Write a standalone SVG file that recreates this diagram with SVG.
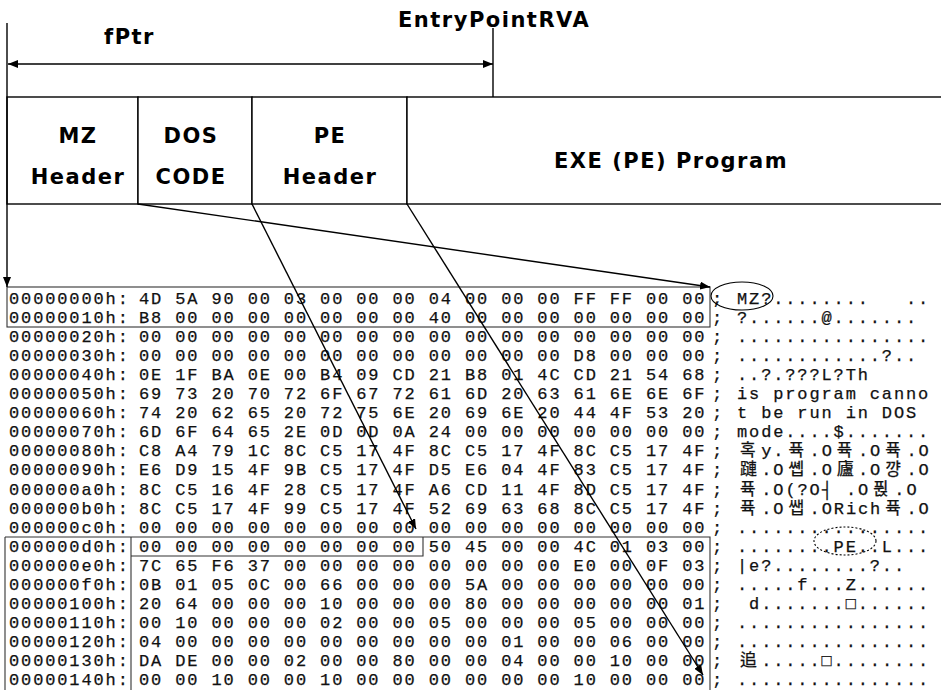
<svg xmlns="http://www.w3.org/2000/svg" width="941" height="690" viewBox="0 0 941 690">
  <defs>
    <marker id="tip" viewBox="0 0 10 8" refX="10" refY="4" markerUnits="userSpaceOnUse" markerWidth="10" markerHeight="8" orient="auto-start-reverse">
      <path d="M0,0 L10,4 L0,8 z" fill="#000"/>
    </marker>
    <style>
      .cell { fill: #fff; stroke: #000; stroke-width: 1.4; }
      .lbl { font-family: "DejaVu Sans", Verdana, sans-serif; font-weight: bold; font-size: 21px; letter-spacing: 1.5px; fill: #000; }
      .mid { text-anchor: middle; }
      .wire { fill: none; stroke: #000; stroke-width: 1.4; }
      .dump { font-family: "Liberation Mono", "DejaVu Sans Mono", "Noto Sans CJK KR", monospace; font-size: 17px; letter-spacing: 1.87px; fill: #111; stroke: #111; stroke-width: 0.25; }
      .frame { fill: none; stroke: #333; stroke-width: 1.1; }
      .ring { fill: none; stroke: #000; stroke-width: 1.1; }
      .ring.dotted { stroke-dasharray: 2 2; }
    </style>
  </defs>

  <rect width="941" height="690" fill="#fff"/>

  <!-- offset labels above the layout -->
  <g id="label-fptr">
    <text class="lbl" x="104" y="44">fPtr</text>
  </g>
  <g id="label-entrypoint">
    <text class="lbl" x="398" y="27">EntryPointRVA</text>
  </g>

  <!-- file layout -->
  <g id="mz-header">
    <rect class="cell" x="7" y="97" width="131" height="107"/>
    <text class="lbl mid" x="78" y="143">MZ</text>
    <text class="lbl mid" x="78" y="184">Header</text>
  </g>
  <g id="dos-code">
    <rect class="cell" x="138" y="97" width="114" height="107"/>
    <text class="lbl mid" x="191" y="143">DOS</text>
    <text class="lbl mid" x="191" y="184">CODE</text>
  </g>
  <g id="pe-header">
    <rect class="cell" x="252" y="97" width="155" height="107"/>
    <text class="lbl mid" x="330" y="143">PE</text>
    <text class="lbl mid" x="330" y="184">Header</text>
  </g>
  <g id="exe-program">
    <rect class="cell" x="407" y="97" width="540" height="107"/>
    <text class="lbl mid" x="671" y="168">EXE (PE) Program</text>
  </g>

  <!-- hex dump: address, 16 bytes, separator, character view -->
  <g id="hexdump" class="dump">
    <text y="304"><tspan x="9">00000000h:</tspan><tspan x="139">4D 5A 90 00 03 00 00 00 04 00 00 00 FF FF 00 00</tspan><tspan x="712">;</tspan><tspan x="737" xml:space="preserve">MZ?........   ..</tspan></text>
    <text y="323.05"><tspan x="9">00000010h:</tspan><tspan x="139">B8 00 00 00 00 00 00 00 40 00 00 00 00 00 00 00</tspan><tspan x="712">;</tspan><tspan x="737">?......@.......</tspan></text>
    <text y="342.1"><tspan x="9">00000020h:</tspan><tspan x="139">00 00 00 00 00 00 00 00 00 00 00 00 00 00 00 00</tspan><tspan x="712">;</tspan><tspan x="737">................</tspan></text>
    <text y="361.15"><tspan x="9">00000030h:</tspan><tspan x="139">00 00 00 00 00 00 00 00 00 00 00 00 D8 00 00 00</tspan><tspan x="712">;</tspan><tspan x="737">............?..</tspan></text>
    <text y="380.2"><tspan x="9">00000040h:</tspan><tspan x="139">0E 1F BA 0E 00 B4 09 CD 21 B8 01 4C CD 21 54 68</tspan><tspan x="712">;</tspan><tspan x="737">..?.???L?Th</tspan></text>
    <text y="399.25"><tspan x="9">00000050h:</tspan><tspan x="139">69 73 20 70 72 6F 67 72 61 6D 20 63 61 6E 6E 6F</tspan><tspan x="712">;</tspan><tspan x="737">is program canno</tspan></text>
    <text y="418.3"><tspan x="9">00000060h:</tspan><tspan x="139">74 20 62 65 20 72 75 6E 20 69 6E 20 44 4F 53 20</tspan><tspan x="712">;</tspan><tspan x="737">t be run in DOS</tspan></text>
    <text y="437.35"><tspan x="9">00000070h:</tspan><tspan x="139">6D 6F 64 65 2E 0D 0D 0A 24 00 00 00 00 00 00 00</tspan><tspan x="712">;</tspan><tspan x="737">mode....$.......</tspan></text>
    <text y="456.4"><tspan x="9">00000080h:</tspan><tspan x="139">C8 A4 79 1C 8C C5 17 4F 8C C5 17 4F 8C C5 17 4F</tspan><tspan x="712">;</tspan><tspan x="740 761.2 773.3 788.4 809.6 821.7 836.8 858 870.1 885.2 906.4 918.5">혹y.퓩.O퓩.O퓩.O</tspan></text>
    <text y="475.45"><tspan x="9">00000090h:</tspan><tspan x="139">E6 D9 15 4F 9B C5 17 4F D5 E6 04 4F 83 C5 17 4F</tspan><tspan x="712">;</tspan><tspan x="740 761.2 773.3 788.4 809.6 821.7 836.8 858 870.1 885.2 906.4 918.5">蹥.O쏍.O廬.O꺙.O</tspan></text>
    <text y="494.5"><tspan x="9">000000a0h:</tspan><tspan x="139">8C C5 16 4F 28 C5 17 4F A6 CD 11 4F 8D C5 17 4F</tspan><tspan x="712">;</tspan><tspan x="740 761.2 773.3 785.4 797.5 809.6 821.7 845.9 858 873.1 894.3 906.4">퓩.O(?O┤.O퓑.O</tspan></text>
    <text y="513.55"><tspan x="9">000000b0h:</tspan><tspan x="139">8C C5 17 4F 99 C5 17 4F 52 69 63 68 8C C5 17 4F</tspan><tspan x="712">;</tspan><tspan x="740 761.2 773.3 788.4 809.6 821.7 833.8 845.9 858 870.1 885.2 906.4 918.5">퓩.O쌥.ORich퓩.O</tspan></text>
    <text y="532.6"><tspan x="9">000000c0h:</tspan><tspan x="139">00 00 00 00 00 00 00 00 00 00 00 00 00 00 00 00</tspan><tspan x="712">;</tspan><tspan x="737">................</tspan></text>
    <text y="551.65"><tspan x="9">000000d0h:</tspan><tspan x="139">00 00 00 00 00 00 00 00 50 45 00 00 4C 01 03 00</tspan><tspan x="712">;</tspan><tspan x="737">........PE..L...</tspan></text>
    <text y="570.7"><tspan x="9">000000e0h:</tspan><tspan x="139">7C 65 F6 37 00 00 00 00 00 00 00 00 E0 00 0F 03</tspan><tspan x="712">;</tspan><tspan x="737">|e?........?..</tspan></text>
    <text y="589.75"><tspan x="9">000000f0h:</tspan><tspan x="139">0B 01 05 0C 00 66 00 00 00 5A 00 00 00 00 00 00</tspan><tspan x="712">;</tspan><tspan x="737">.....f...Z......</tspan></text>
    <text y="608.8"><tspan x="9">00000100h:</tspan><tspan x="139">20 64 00 00 00 10 00 00 00 80 00 00 00 00 00 01</tspan><tspan x="712">;</tspan><tspan x="737" xml:space="preserve"> d.......□......</tspan></text>
    <text y="627.85"><tspan x="9">00000110h:</tspan><tspan x="139">00 10 00 00 00 02 00 00 05 00 00 00 05 00 00 00</tspan><tspan x="712">;</tspan><tspan x="737">................</tspan></text>
    <text y="646.9"><tspan x="9">00000120h:</tspan><tspan x="139">04 00 00 00 00 00 00 00 00 00 01 00 00 06 00 00</tspan><tspan x="712">;</tspan><tspan x="737">................</tspan></text>
    <text y="665.95"><tspan x="9">00000130h:</tspan><tspan x="139">DA DE 00 00 02 00 00 80 00 00 04 00 00 10 00 00</tspan><tspan x="712">;</tspan><tspan x="740">追</tspan><tspan x="761.2">.....□........</tspan></text>
    <text y="685"><tspan x="9">00000140h:</tspan><tspan x="139">00 00 10 00 00 10 00 00 00 00 00 00 10 00 00 00</tspan><tspan x="712">;</tspan><tspan x="737">................</tspan></text>
  </g>

  <!-- region frames in the dump -->
  <g id="dump-frames">
    <rect class="frame" x="7" y="287" width="703" height="40"/>
    <path class="frame" d="M5,537 H710 V690 M5,537 V690 M131,537 V690 M131,556 H423 V537"/>
  </g>

  <!-- highlighted signatures -->
  <g id="sig-mz">
    <ellipse class="ring" cx="742" cy="296" rx="31" ry="14"/>
  </g>
  <g id="sig-pe">
    <ellipse class="ring dotted" cx="845" cy="541" rx="31" ry="14"/>
  </g>

  <!-- connectors -->
  <g id="connectors" class="wire">
    <line x1="7" y1="23" x2="7" y2="287" marker-end="url(#tip)"/>
    <line x1="8" y1="64" x2="493" y2="64" marker-start="url(#tip)" marker-end="url(#tip)"/>
    <line x1="493" y1="28" x2="493" y2="97"/>
    <line x1="138" y1="204" x2="710" y2="287" marker-end="url(#tip)"/>
    <line x1="252" y1="204" x2="416" y2="529" marker-end="url(#tip)"/>
    <line x1="407" y1="204" x2="703" y2="675" marker-end="url(#tip)"/>
  </g>
</svg>
